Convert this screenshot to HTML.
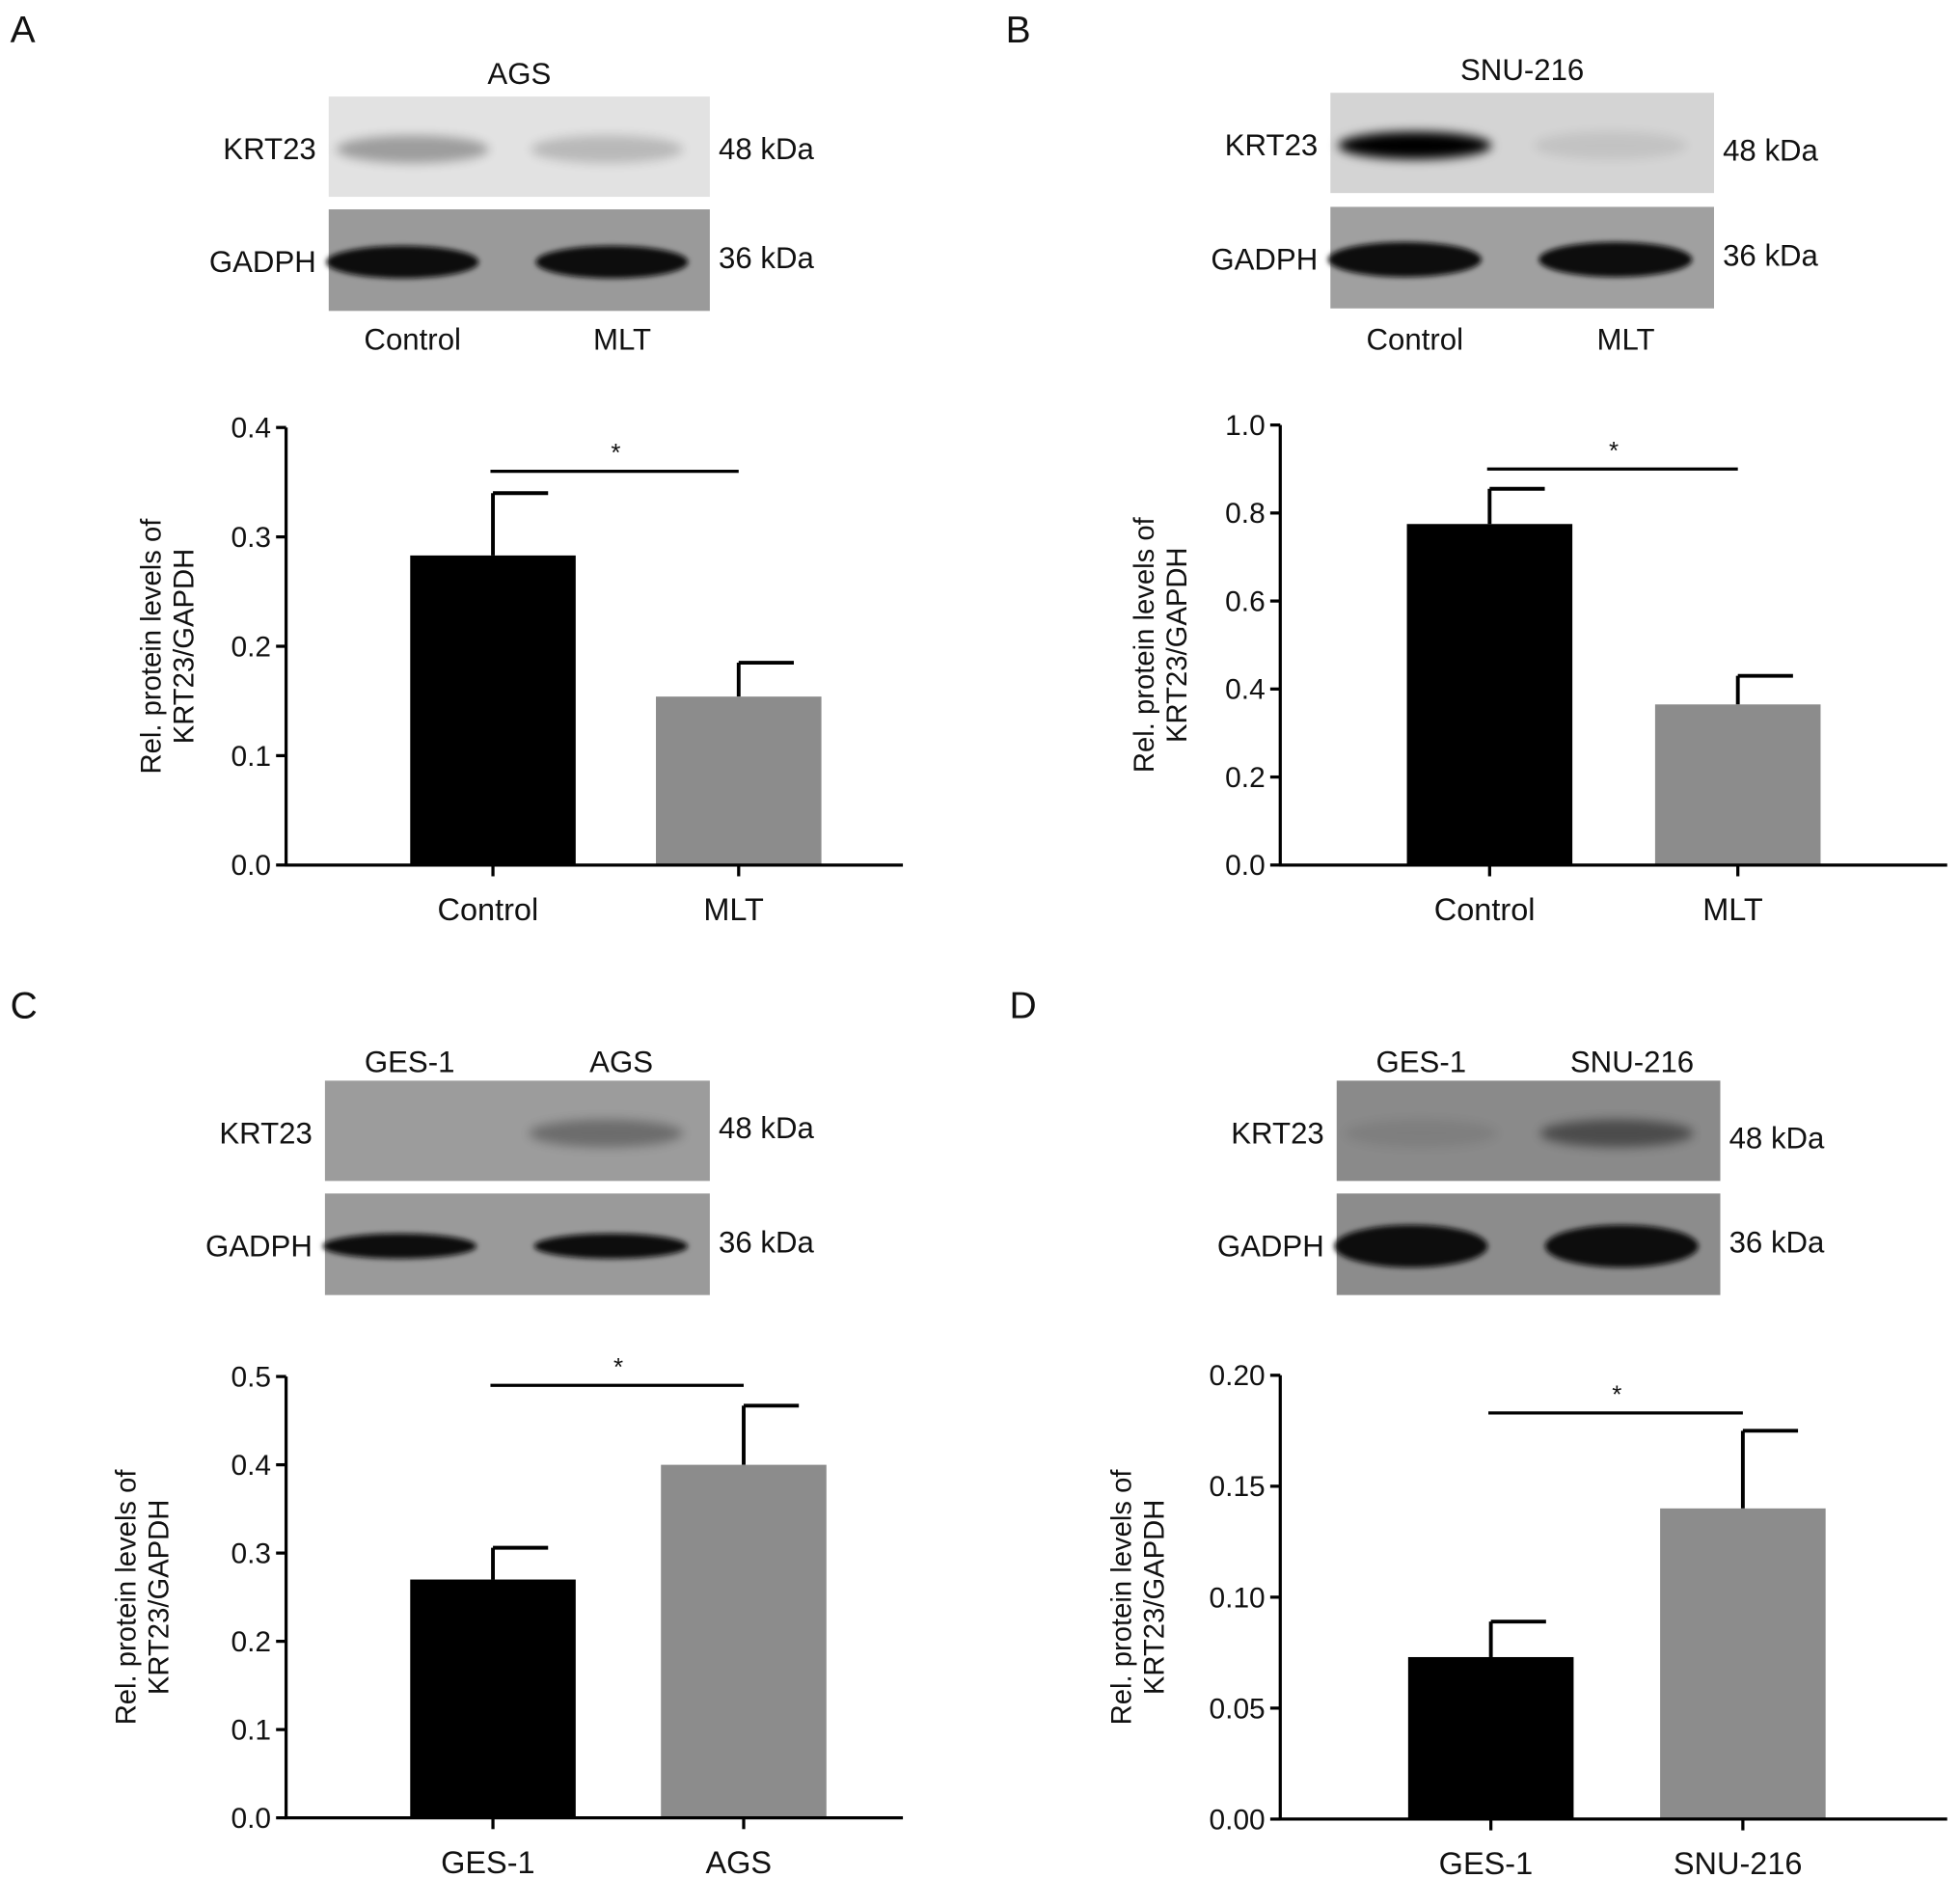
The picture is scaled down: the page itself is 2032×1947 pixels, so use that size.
<!DOCTYPE html>
<html><head><meta charset="utf-8">
<style>
html,body{margin:0;padding:0;background:#fff;}
svg{display:block;font-family:"Liberation Sans",Arial,sans-serif;}
text{fill:#111;}
</style></head>
<body>
<svg id="fig" width="2032" height="1947" viewBox="0 0 1563 1498" xmlns="http://www.w3.org/2000/svg">
<defs>
<filter id="blur" x="-20%" y="-50%" width="140%" height="200%"><feGaussianBlur stdDeviation="4"/></filter>
<filter id="blur2" x="-20%" y="-50%" width="140%" height="200%"><feGaussianBlur stdDeviation="2"/></filter>
</defs>
<g id="blots"></g>
<g id="charts"></g>
</svg>
<script>
// Chart data
const catsA = ["Control", "MLT"];
const valsA = [0.283, 0.154];
const errsA = [0.057, 0.031];
const ticksA = ["0.0", "0.1", "0.2", "0.3", "0.4"];
const tickValsA = [0, 0.1, 0.2, 0.3, 0.4];
const sigA = 0.36;

const catsB = ["Control", "MLT"];
const valsB = [0.775, 0.365];
const errsB = [0.08, 0.065];
const ticksB = ["0.0", "0.2", "0.4", "0.6", "0.8", "1.0"];
const tickValsB = [0, 0.2, 0.4, 0.6, 0.8, 1.0];
const sigB = 0.9;

const catsC = ["GES-1", "AGS"];
const valsC = [0.27, 0.40];
const errsC = [0.036, 0.067];
const ticksC = ["0.0", "0.1", "0.2", "0.3", "0.4", "0.5"];
const tickValsC = [0, 0.1, 0.2, 0.3, 0.4, 0.5];
const sigC = 0.49;

const catsD = ["GES-1", "SNU-216"];
const valsD = [0.073, 0.140];
const errsD = [0.016, 0.035];
const ticksD = ["0.00", "0.05", "0.10", "0.15", "0.20"];
const tickValsD = [0, 0.05, 0.10, 0.15, 0.20];
const sigD = 0.183;

const NS = "http://www.w3.org/2000/svg";
function mk(tag, attrs, parent, txt) {
  const e = document.createElementNS(NS, tag);
  for (const k in attrs) e.setAttribute(k, attrs[k]);
  if (txt !== undefined) e.textContent = txt;
  parent.appendChild(e);
  return e;
}

const charts = document.getElementById("charts");
function drawChart(id, g, cats, vals, errs, ticks, tickVals, sig) {
  const grp = mk("g", {}, charts);
  
  
  const ymax = tickVals[tickVals.length - 1];
  const ys = v => g.y0 - (v / ymax) * (g.y0 - g.ytop);
  const barW = 132;
  const xs = i => g.c0 + i * g.dc;
  const ya = mk("line", {x1: g.ax, y1: g.ytop, x2: g.ax, y2: g.y0, stroke: "#000", "stroke-width": 2.5}, grp);
  
  
  tickVals.forEach((t, i) => {
    const y = ys(t);
    const tk = mk("line", {x1: g.ax - 8, y1: y, x2: g.ax, y2: y, stroke: "#000", "stroke-width": 2.5}, grp);
    
    
    const tl = mk("text", {x: g.ax - 12, y: y + 8, "text-anchor": "end", "font-size": 23}, grp, ticks[i]);
    
    
  });
  vals.forEach((v, i) => {
    const cx = xs(i);
    const top = ys(v + errs[i]);
    const eb = mk("line", {x1: cx, y1: ys(v), x2: cx, y2: top, stroke: "#000", "stroke-width": 3}, grp);
    
    
    const cap = mk("line", {x1: cx, y1: top, x2: cx + 44, y2: top, stroke: "#000", "stroke-width": 3}, grp);
    
    
    const b = mk("rect", {x: cx - barW / 2, y: ys(v), width: barW, height: g.y0 - ys(v), fill: i === 0 ? "#000" : "#8c8c8c"}, grp);
    
    
    const xt = mk("line", {x1: cx, y1: g.y0, x2: cx, y2: g.y0 + 9, stroke: "#000", "stroke-width": 2.5}, grp);
    
    
    const xl = mk("text", {x: cx - 4, y: g.y0 + 44, "text-anchor": "middle", "font-size": 25}, grp, cats[i]);
    
    
  });
  const xa = mk("line", {x1: g.ax - 1, y1: g.y0, x2: g.xend, y2: g.y0, stroke: "#000", "stroke-width": 2.5}, grp);
  
  
  const sy = ys(sig);
  const sl = mk("line", {x1: xs(0) - 2, y1: sy, x2: xs(1), y2: sy, stroke: "#000", "stroke-width": 2.5}, grp);
  
  
  const st = mk("text", {x: (xs(0) + xs(1)) / 2, y: sy - 8, "text-anchor": "middle", "font-size": 20}, grp, "*");
  
  
  const cy = (g.ytop + g.y0) / 2;
  const t1 = mk("text", {x: g.tx - 26, y: cy, "text-anchor": "middle", "font-size": 22.5, transform: `rotate(-90 ${g.tx - 26} ${cy})`}, grp, "Rel. protein levels of");
  
  
  const t2 = mk("text", {x: g.tx, y: cy, "text-anchor": "middle", "font-size": 22.5, transform: `rotate(-90 ${g.tx} ${cy})`}, grp, "KRT23/GAPDH");
  
  
}

drawChart("a", {ax: 228, y0: 690, ytop: 341, xend: 720, c0: 393, dc: 196, tx: 154}, catsA, valsA, errsA, ticksA, tickValsA, sigA);
drawChart("b", {ax: 1021, y0: 690, ytop: 339, xend: 1553, c0: 1188, dc: 198, tx: 946}, catsB, valsB, errsB, ticksB, tickValsB, sigB);
drawChart("c", {ax: 228, y0: 1450, ytop: 1098, xend: 720, c0: 393, dc: 200, tx: 134}, catsC, valsC, errsC, ticksC, tickValsC, sigC);
drawChart("d", {ax: 1021, y0: 1451, ytop: 1097, xend: 1553, c0: 1189, dc: 201, tx: 928}, catsD, valsD, errsD, ticksD, tickValsD, sigD);

const blots = document.getElementById("blots");
function blot(id, o) {
  const grp = mk("g", {}, blots);
  
  
  const lane1 = o.x + (o.w) * 0.22, lane2 = o.x + o.w * 0.73;
  const r1 = mk("rect", {x: o.x, y: o.k, width: o.w, height: 80, fill: o.kbg}, grp);
  
  
  o.kb.forEach((op, i) => {
    if (op > 0) {
      const e = mk("ellipse", {cx: i ? lane2 : lane1, cy: o.k + 42, rx: o.w * 0.2, ry: 11, fill: "#000", opacity: op, filter: "url(#blur)"}, grp);
      
      
    }
  });
  const r2 = mk("rect", {x: o.x, y: o.g, width: o.w, height: 81, fill: o.gbg}, grp);
  
  
  [lane1, lane2].forEach((cx, i) => {
    const e = mk("ellipse", {cx: cx + (i ? 4 : -8), cy: o.g + 42, rx: o.w * 0.2, ry: o.gry, fill: "#0a0a0a", filter: "url(#blur2)"}, grp);
    
    
  });
  const a = mk("text", {x: o.x - 10, y: o.k + 50, "text-anchor": "end", "font-size": 24}, grp, "KRT23");
  
  
  const b = mk("text", {x: o.x - 10, y: o.g + 50, "text-anchor": "end", "font-size": 24}, grp, "GADPH");
  
  
  const c = mk("text", {x: o.x + o.w + 7, y: o.k + 50 + o.kdy, "font-size": 24}, grp, "48 kDa");
  
  
  const d = mk("text", {x: o.x + o.w + 7, y: o.g + 47, "font-size": 24}, grp, "36 kDa");
  
  
  o.lanes.forEach((l, i) => {
    const t = mk("text", {x: i ? o.x + o.w * 0.77 : o.x + o.w * 0.22, y: o.ly, "text-anchor": "middle", "font-size": 24}, grp, l);
    
    
  });
  if (o.title) {
    const t = mk("text", {x: o.x + o.w / 2, y: o.k - 10, "text-anchor": "middle", "font-size": 24}, grp, o.title);
    
    
  }
}
blot("a", {x: 262, w: 304, k: 77, g: 167, kbg: "#e2e2e2", gbg: "#9a9a9a", kb: [0.3, 0.18], gry: 13, kdy: 0, lanes: ["Control", "MLT"], ly: 279, title: "AGS"});
blot("b", {x: 1061, w: 306, k: 74, g: 165, kbg: "#d4d4d4", gbg: "#a0a0a0", kb: [1, 0.08], gry: 14, kdy: 4, lanes: ["Control", "MLT"], ly: 279, title: "SNU-216"});
blot("c", {x: 259, w: 307, k: 862, g: 952, kbg: "#9c9c9c", gbg: "#9a9a9a", kb: [0, 0.3], gry: 10, kdy: -4, lanes: ["GES-1", "AGS"], ly: 855});
blot("d", {x: 1066, w: 306, k: 862, g: 952, kbg: "#8a8a8a", gbg: "#8c8c8c", kb: [0.08, 0.45], gry: 17, kdy: 4, lanes: ["GES-1", "SNU-216"], ly: 855});

[["A", 8, 34], ["B", 802, 34], ["C", 8, 812], ["D", 805, 812]].forEach(p => {
  const t = mk("text", {x: p[1], y: p[2], "font-size": 30}, blots, p[0]);
  
  
});
</script>
</body></html>
